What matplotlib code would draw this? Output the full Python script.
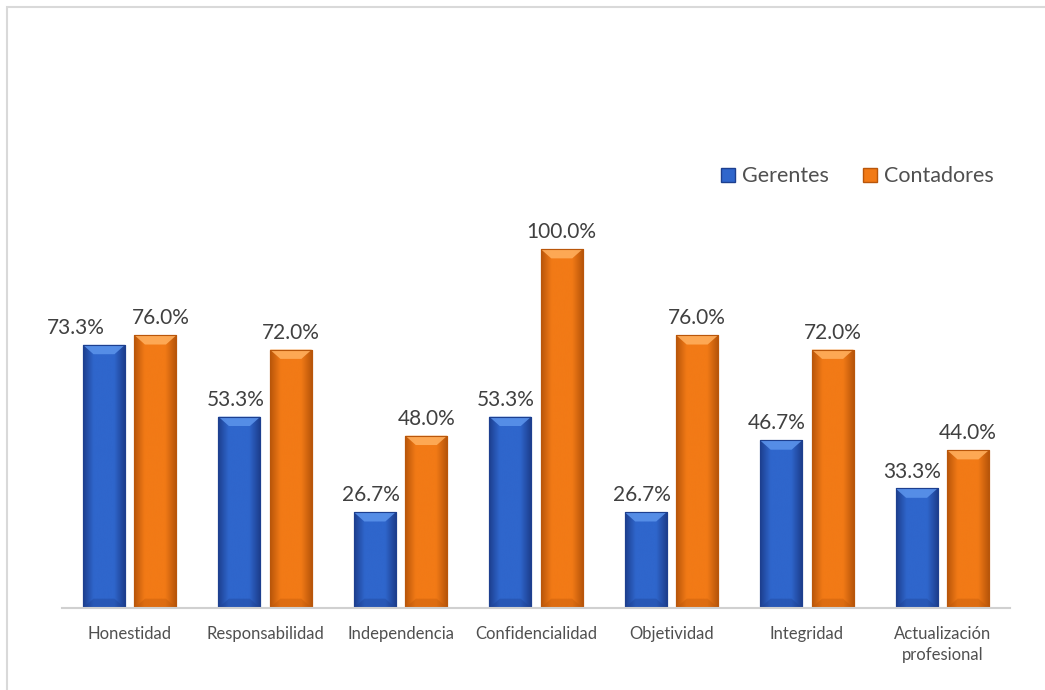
import numpy as np
import matplotlib.pyplot as plt
from matplotlib.patches import Rectangle, Polygon
from matplotlib.colors import LinearSegmentedColormap

plt.rcParams['font.family'] = ['Lato', 'DejaVu Sans']

categorias = ['Honestidad', 'Responsabilidad', 'Independencia', 'Confidencialidad',
              'Objetividad', 'Integridad', 'Actualización\nprofesional']
gerentes = [73.3, 53.3, 26.7, 53.3, 26.7, 46.7, 33.3]
contadores = [76.0, 72.0, 48.0, 100.0, 76.0, 72.0, 44.0]
series = ['Gerentes', 'Contadores']

# colores: oscuro (borde), medio, claro (bisel superior)
paleta = {
    'Gerentes': ('#1d3f8f', '#2f66cc', '#5a92ea'),
    'Contadores': ('#b9560a', '#f27a16', '#ffae5c'),
}

fig = plt.figure(figsize=(10.45, 6.9), dpi=100)
ax = fig.add_axes([62 / 1045, 82 / 690, 948 / 1045, 518 / 690])

ancho = 0.31
desp = 0.19
x = np.arange(len(categorias))


def barra(ax, xc, h, nombre):
    dark, mid, light = paleta[nombre]
    x0 = xc - ancho / 2
    rect = Rectangle((x0, 0), ancho, h, facecolor=mid, edgecolor=dark, lw=0.8, zorder=2)
    ax.add_patch(rect)
    # gradiente horizontal (oscuro en bordes)
    cmap = LinearSegmentedColormap.from_list('g', [dark, mid, mid, mid, dark])
    grad = np.linspace(0, 1, 64).reshape(1, -1)
    im = ax.imshow(grad, cmap=cmap, extent=(x0, x0 + ancho, 0, h), aspect='auto',
                   origin='lower', zorder=2.1, interpolation='bicubic')
    im.set_clip_path(rect)
    # bisel superior
    bx = ancho * 0.25
    by = min(2.6, h * 0.3)
    top = Polygon([(x0, h), (x0 + ancho, h), (x0 + ancho - bx, h - by), (x0 + bx, h - by)],
                  closed=True, facecolor=light, edgecolor='none', alpha=0.9, zorder=2.2)
    ax.add_patch(top)
    # bisel inferior
    bot = Polygon([(x0, 0), (x0 + ancho, 0), (x0 + ancho - bx, by), (x0 + bx, by)],
                  closed=True, facecolor=dark, edgecolor='none', alpha=0.35, zorder=2.2)
    ax.add_patch(bot)
    ax.add_patch(Rectangle((x0, 0), ancho, h, facecolor='none', edgecolor=dark, lw=0.8, zorder=2.3))


for i in range(len(categorias)):
    g, c = gerentes[i], contadores[i]
    barra(ax, x[i] - desp, g, 'Gerentes')
    barra(ax, x[i] + desp, c, 'Contadores')
    dg, dc = -3, 0
    if abs(g - c) < 8:
        dg, dc = -20, 4
    ax.annotate(f'{g:.1f}%', (x[i] - desp, g), xytext=(dg, 5), textcoords='offset points',
                ha='center', va='bottom', fontsize=15, color='#404040', zorder=5)
    ax.annotate(f'{c:.1f}%', (x[i] + desp, c), xytext=(dc, 5), textcoords='offset points',
                ha='center', va='bottom', fontsize=15, color='#404040', zorder=5)

ax.set_xlim(-0.5, len(categorias) - 0.5)
ax.set_ylim(0, 144.3)
ax.set_xticks(x)
ax.set_xticklabels(categorias, fontsize=12, color='#505050', linespacing=1.35)
ax.tick_params(axis='x', length=0, pad=13)
ax.set_yticks([])
for s in ['top', 'right', 'left']:
    ax.spines[s].set_visible(False)
ax.spines['bottom'].set_color('#d0d0d0')
ax.spines['bottom'].set_linewidth(1.5)

# leyenda
handles = [Rectangle((0, 0), 1, 1, facecolor=paleta[n][1], edgecolor=paleta[n][0]) for n in series]
ax.legend(handles, series, loc='upper right', bbox_to_anchor=(1.003, 0.89), ncol=2, frameon=False,
          fontsize=15.5, handlelength=0.65, handleheight=0.65, handletextpad=0.3, columnspacing=1.6,
          labelcolor='#505050')

# borde del área del gráfico
fig.patches.append(Rectangle((7 / 1045, -0.1), 1.2, (690 - 7) / 690 + 0.1, transform=fig.transFigure,
                             fill=False, edgecolor='#d9d9d9', lw=1.5))

fig.savefig('out.png', dpi=100)
